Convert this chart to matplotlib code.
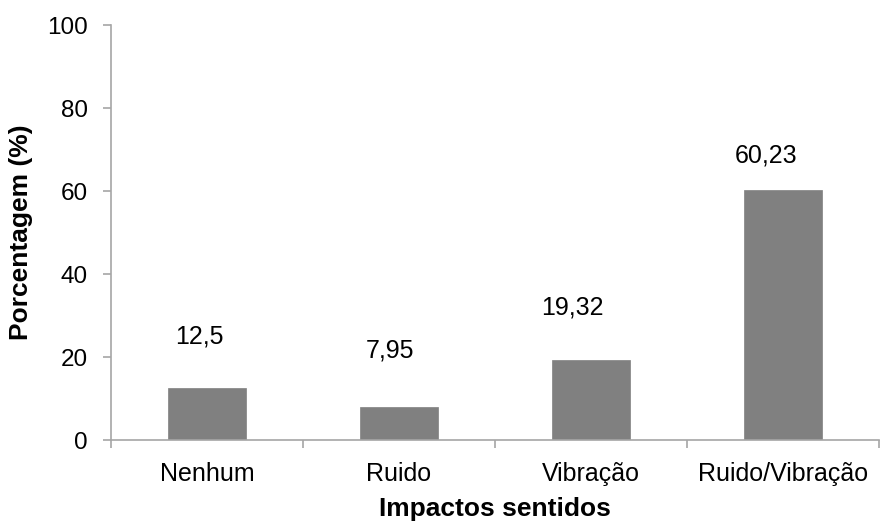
import matplotlib
matplotlib.use("Agg")
import matplotlib.pyplot as plt
from matplotlib.ticker import FixedLocator

categories = ["Nenhum", "Ruido", "Vibração", "Ruido/Vibração"]
values = [12.5, 7.95, 19.32, 60.23]
value_labels = ["12,5", "7,95", "19,32", "60,23"]
y_ticks = [0, 20, 40, 60, 80, 100]

# hand-placed label offsets (pixels) relative to each bar top centre
label_dx = [-8, -9, -19, -17]
label_dy = [52, 57, 52, 35]

plt.rcParams["font.family"] = ["Liberation Sans", "DejaVu Sans"]

fig = plt.figure(figsize=(8.8, 5.22), dpi=100)
ax = fig.add_axes([0.1261, 0.157, 0.8728, 0.795])

x = list(range(len(categories)))
ax.bar(x, values, width=0.406, color="#808080", edgecolor="#808080", linewidth=0.5, zorder=2)

ax.set_xlim(-0.5, len(categories) - 0.5)
ax.set_ylim(0, 100)

for s in ["top", "right"]:
    ax.spines[s].set_visible(False)
for s in ["left", "bottom"]:
    ax.spines[s].set_color("#a6a6a6")
    ax.spines[s].set_linewidth(1.2)

ax.set_yticks(y_ticks)
ax.tick_params(axis="y", direction="out", length=5.5, width=1.2, color="#a6a6a6",
               labelsize=17.5, pad=11, labelcolor="black")
ax.set_xticks(x)
ax.set_xticklabels(categories)
ax.tick_params(axis="x", which="major", length=0, labelsize=18, pad=16)
ax.xaxis.set_minor_locator(FixedLocator([i - 0.5 for i in range(len(categories) + 1)]))
ax.tick_params(axis="x", which="minor", direction="out", length=6, width=1.2, color="#a6a6a6")

ax.set_ylabel("Porcentagem (%)", fontsize=19, fontweight="bold", labelpad=10)
ax.set_xlabel("Impactos sentidos", fontsize=19, fontweight="bold", labelpad=8)

for xi, v, lab, dx, dy in zip(x, values, value_labels, label_dx, label_dy):
    ax.annotate(lab, xy=(xi, v), xytext=(dx * 0.72, dy * 0.72), textcoords="offset points",
                ha="center", va="center", fontsize=18)

fig.savefig("out.png", dpi=100)
